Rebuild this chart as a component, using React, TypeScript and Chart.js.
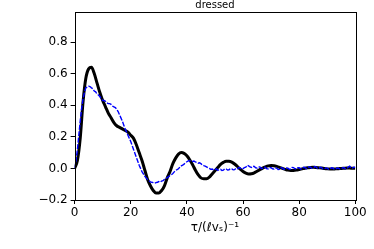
import React, { useEffect, useRef } from "react";
import { Chart, registerables } from "chart.js";

Chart.register(...registerables);

const TITLE = "dressed";
const X_LABEL = "τ/(ℓvₛ)⁻¹";
const X_TICKS = [0, 20, 40, 60, 80, 100];
const Y_TICKS = [-0.2, 0, 0.2, 0.4, 0.6, 0.8];

// theory curve sampled at integer tau
const tauBlack = Array.from({ length: 101 }, (_, i) => i);
const blackSeries = [
  0.0, 0.05, 0.19, 0.42, 0.57, 0.63, 0.64, 0.6, 0.54, 0.48,
  0.43, 0.39, 0.35, 0.32, 0.29, 0.27, 0.26, 0.25, 0.24, 0.23,
  0.21, 0.19, 0.15, 0.1, 0.05, -0.01, -0.07, -0.11, -0.14, -0.155,
  -0.155, -0.14, -0.11, -0.06, -0.02, 0.03, 0.065, 0.09, 0.1, 0.095,
  0.08, 0.055, 0.025, -0.01, -0.04, -0.06, -0.065, -0.065, -0.055, -0.035,
  -0.015, 0.005, 0.025, 0.038, 0.045, 0.045, 0.04, 0.028, 0.012, -0.005,
  -0.02, -0.03, -0.035, -0.034, -0.028, -0.018, -0.008, 0.002, 0.01, 0.016,
  0.018, 0.017, 0.013, 0.007, 0.0, -0.006, -0.011, -0.013, -0.013, -0.011,
  -0.007, -0.003, 0.001, 0.004, 0.006, 0.007, 0.006, 0.004, 0.002, -0.001,
  -0.003, -0.004, -0.004, -0.003, -0.002, 0.0, 0.001, 0.002, 0.002, 0.001,
  0.001,
];

// numerical curve sampled every 0.5 tau
const tauBlue = Array.from({ length: 201 }, (_, i) => i * 0.5);
const blueSeries = [
  0.0, 0.05, 0.12, 0.21, 0.3, 0.38, 0.44, 0.48, 0.51, 0.515,
  0.52, 0.518, 0.51, 0.505, 0.49, 0.485, 0.47, 0.465, 0.455, 0.44,
  0.43, 0.43, 0.425, 0.415, 0.41, 0.41, 0.405, 0.395, 0.39, 0.385,
  0.375, 0.36, 0.34, 0.32, 0.3, 0.275, 0.25, 0.23, 0.21, 0.19,
  0.17, 0.145, 0.12, 0.095, 0.07, 0.045, 0.02, 0.0, -0.02, -0.035,
  -0.05, -0.06, -0.07, -0.078, -0.085, -0.088, -0.09, -0.094, -0.09, -0.088,
  -0.083, -0.087, -0.08, -0.078, -0.07, -0.066, -0.058, -0.052, -0.045, -0.04,
  -0.032, -0.022, -0.012, -0.008, -0.002, 0.008, 0.016, 0.02, 0.027, 0.036,
  0.042, 0.048, 0.05, 0.046, 0.044, 0.047, 0.041, 0.038, 0.033, 0.036,
  0.03, 0.022, 0.018, 0.015, 0.01, 0.004, 0.0, -0.006, -0.004, -0.01,
  -0.008, -0.003, -0.012, -0.007, -0.006, -0.013, -0.011, -0.002, -0.004, -0.01,
  -0.009, -0.001, -0.003, -0.009, -0.008, 0.001, -0.002, 0.006, 0.004, -0.004,
  -0.001, 0.005, 0.008, 0.02, 0.016, 0.009, 0.006, 0.014, 0.012, 0.004,
  0.002, 0.01, 0.009, 0.0, 0.001, 0.007, 0.006, -0.002, -0.003, 0.005,
  0.004, -0.003, -0.004, 0.003, 0.002, -0.007, -0.006, 0.004, 0.003, -0.005,
  -0.005, 0.002, 0.001, -0.006, -0.004, 0.006, 0.005, -0.002, -0.002, 0.005,
  0.004, -0.004, -0.003, 0.007, 0.006, -0.001, 0.0, 0.01, 0.008, 0.001,
  0.002, 0.012, 0.01, 0.0, 0.001, 0.007, 0.005, -0.004, -0.003, 0.003,
  0.002, -0.005, -0.004, 0.004, 0.003, -0.006, -0.005, 0.002, 0.001, -0.004,
  -0.003, 0.005, 0.004, -0.003, -0.002, 0.009, 0.014, 0.004, 0.003, 0.008,
  0.006,
];

const fmt = (v: number) => {
  const s = (Math.round(v * 10) / 10).toFixed(1);
  return s.replace("-", "\u2212");
};

export default function App() {
  const ref = useRef<HTMLCanvasElement | null>(null);

  useEffect(() => {
    if (!ref.current) return;
    const frame = {
      id: "frame",
      afterDatasetsDraw(chart: any) {
        const { ctx, chartArea } = chart;
        ctx.save();
        ctx.strokeStyle = "#000";
        ctx.lineWidth = 1;
        ctx.strokeRect(
          Math.round(chartArea.left) + 0.5,
          Math.round(chartArea.top) + 0.5,
          Math.round(chartArea.right - chartArea.left),
          Math.round(chartArea.bottom - chartArea.top)
        );
        ctx.fillStyle = "#000";
        ctx.font = "10px 'DejaVu Sans'";
        ctx.textAlign = "center";
        ctx.textBaseline = "alphabetic";
        ctx.fillText(TITLE, (chartArea.left + chartArea.right) / 2, 8);
        ctx.restore();
      },
    };
    const chart = new Chart(ref.current, {
      type: "line",
      data: {
        datasets: [
          {
            label: "numerics",
            data: tauBlue.map((t, i) => ({ x: t, y: blueSeries[i] })),
            borderColor: "#0000ff",
            borderWidth: 1.4,
            borderDash: [5, 1.5],
            pointRadius: 0,
            tension: 0,
            fill: false,
          },
          {
            label: "theory",
            data: tauBlack.map((t, i) => ({ x: t, y: blackSeries[i] })),
            borderColor: "#000000",
            borderWidth: 3,
            pointRadius: 0,
            cubicInterpolationMode: "monotone",
            fill: false,
          },
        ],
      },
      options: {
        responsive: false,
        animation: false,
        devicePixelRatio: 1,
        layout: { padding: { top: 12, right: 18.7, bottom: 14, left: 0 } },
        plugins: {
          legend: { display: false },
          title: { display: false },
          tooltip: { enabled: false },
        },
        scales: {
          x: {
            type: "linear",
            min: 0,
            max: 100,
            afterBuildTicks: (s: any) => {
              s.ticks = X_TICKS.map((v) => ({ value: v }));
            },
            afterFit: (s: any) => {
              s.height = 35;
            },
            grid: {
              drawOnChartArea: false,
              tickLength: 4,
              tickColor: "#000",
              color: "#000",
            },
            border: { display: false },
            ticks: {
              color: "#000",
              padding: 2,
              maxRotation: 0,
              font: { family: "'DejaVu Sans'", size: 12 },
              callback: (v: any) => String(v),
            },
            title: {
              display: true,
              text: X_LABEL,
              color: "#000",
              font: { family: "'DejaVu Sans'", size: 12 },
              padding: { top: 0, bottom: 0 },
            },
          },
          y: {
            type: "linear",
            min: -0.2,
            max: 0.99,
            afterBuildTicks: (s: any) => {
              s.ticks = Y_TICKS.map((v) => ({ value: v }));
            },
            afterFit: (s: any) => {
              s.width = 74.6;
            },
            grid: {
              drawOnChartArea: false,
              tickLength: 4,
              tickColor: "#000",
              color: "#000",
            },
            border: { display: false },
            ticks: {
              color: "#000",
              padding: 3,
              font: { family: "'DejaVu Sans'", size: 12 },
              callback: (v: any) => fmt(Number(v)),
            },
          },
        },
      },
      plugins: [frame],
    } as any);
    return () => chart.destroy();
  }, []);

  return (
    <div style={{ position: "fixed", left: 0, top: 0, width: 374, height: 249, background: "#fff" }}>
      <canvas ref={ref} width={374} height={249} />
    </div>
  );
}
